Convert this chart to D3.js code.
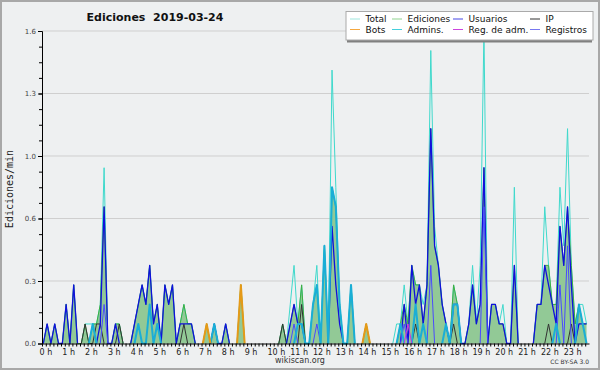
<!DOCTYPE html>
<html>
<head>
<meta charset="utf-8">
<script src="https://cdn.jsdelivr.net/npm/d3@7"></script>
<style>
  body { margin: 0; background: #eef0f1; }
  svg { display: block; font-family: "DejaVu Sans", sans-serif; }
  text { white-space: pre; }
</style>
</head>
<body>
<div id="chart"></div>
<script>
// ediciones por tramo de 10 min (0h00 .. 23h50), 144 valores, 4 h por fila
const total = [
  0,1,0,1,0,0,2,0,3,0,0,1,1,1,1,2,9,0,0,1,1,0,0,0,
  1,2,3,2,4,1,2,0,3,2,3,0,1,2,1,1,0,0,0,1,0,1,0,0,
  1,0,0,0,3,0,0,0,0,0,0,0,0,0,0,1,0,2,4,1,3,0,0,2,
  4,0,5,0,14,8,2,0,0,3,0,0,0,1,0,0,0,0,0,0,0,1,1,3,
  1,4,3,3,2,3,15,6,4,2,1,0,3,2,0,0,1,4,1,4,16,0,2,2,
  1,2,0,0,8,0,0,0,0,0,2,2,7,4,2,2,8,5,11,4,1,2,2,1
];
const ediciones = [
  0,1,0,1,0,0,2,0,3,0,0,1,0,1,1,2,7,0,0,1,1,0,0,0,
  1,2,3,2,4,1,2,0,3,2,3,0,1,2,1,1,0,0,0,1,0,1,0,0,
  1,0,0,0,3,0,0,0,0,0,0,0,0,0,0,1,0,1,2,1,3,0,0,2,
  3,0,5,0,8,7,2,0,0,3,0,0,0,1,0,0,0,0,0,0,0,0,1,2,
  1,4,3,3,1,3,11,5,4,2,1,0,3,2,0,0,1,3,1,2,9,0,2,2,
  1,1,0,0,4,0,0,0,0,0,2,2,4,4,2,2,6,4,7,4,1,2,1,1
];
const usuarios = [
  0,1,0,1,0,0,2,0,3,0,0,0,0,0,0,1,7,0,0,1,0,0,0,0,
  1,2,3,2,4,1,2,0,3,2,3,0,1,1,1,1,0,0,0,0,0,1,0,0,
  1,0,0,0,0,0,0,0,0,0,0,0,0,0,0,0,0,1,2,1,1,0,0,0,
  0,0,0,0,6,3,1,0,0,0,0,0,0,0,0,0,0,0,0,0,0,0,0,2,
  0,4,2,3,1,3,11,5,4,2,1,0,2,2,0,0,1,3,1,2,9,0,2,2,
  1,1,0,0,4,0,0,0,0,0,2,2,4,3,2,1,6,4,7,3,0,1,1,1
];
const ip = [
  0,0,0,0,0,0,0,0,0,0,0,1,0,0,1,1,0,0,0,0,1,0,0,0,
  0,0,0,0,0,0,0,0,0,0,0,0,0,1,0,0,0,0,0,0,0,0,0,0,
  0,0,0,0,0,0,0,0,0,0,0,0,0,0,0,1,0,0,0,0,2,0,0,0,
  0,0,0,0,0,0,0,0,0,0,0,0,0,0,0,0,0,0,0,0,0,0,0,0,
  0,0,1,0,0,0,0,0,0,0,0,0,1,0,0,0,0,0,0,0,0,0,0,0,
  0,0,0,0,0,0,0,0,0,0,0,0,0,1,0,0,0,0,0,1,0,0,0,0
];
const bots = [
  0,0,0,0,0,0,0,0,0,0,0,0,0,0,0,0,0,0,0,0,0,0,0,0,
  0,0,0,0,0,0,0,0,0,0,0,0,0,0,0,0,0,0,0,1,0,0,0,0,
  0,0,0,0,3,0,0,0,0,0,0,0,0,0,0,0,0,0,0,0,0,0,0,0,
  0,0,0,0,0,0,0,0,0,0,0,0,0,1,0,0,0,0,0,0,0,0,0,0,
  0,0,0,0,0,0,0,0,0,0,0,0,0,0,0,0,0,0,0,0,0,0,0,0,
  0,0,0,0,0,0,0,0,0,0,0,0,0,0,0,0,0,0,0,0,0,0,0,0
];
const admins = [
  0,0,0,0,0,0,0,0,0,0,0,0,0,1,0,0,0,0,0,0,0,0,0,0,
  0,1,0,0,2,0,1,0,0,0,0,0,0,0,0,0,0,0,0,0,0,1,0,0,
  0,0,0,0,0,0,0,0,0,0,0,0,0,0,0,0,0,0,0,1,1,0,0,2,
  3,0,5,0,8,7,2,0,0,3,0,0,0,0,0,0,0,0,0,0,0,0,1,0,
  0,0,2,0,1,0,0,0,0,0,1,0,2,2,0,0,0,0,0,0,0,0,0,0,
  0,0,0,0,0,0,0,0,0,0,0,0,0,0,0,1,0,0,0,0,0,2,1,0
];
const regAdm = [
  0,0,0,0,0,0,0,0,0,0,0,0,0,0,0,0,0,0,0,0,0,0,0,0,
  0,0,0,0,0,0,0,0,0,0,0,0,0,0,0,0,0,0,0,0,0,0,0,0,
  0,0,0,0,0,0,0,0,0,0,0,0,0,0,0,0,0,0,0,0,0,0,0,0,
  0,0,0,0,0,0,0,0,0,0,0,0,0,0,0,0,0,0,0,0,0,0,0,0,
  1,0,0,0,0,0,0,0,0,0,0,0,0,0,0,0,0,0,0,0,0,0,0,0,
  0,0,0,0,0,0,0,0,0,0,0,0,0,0,0,0,0,0,0,0,0,0,0,0
];
const registros = [
  0,0,0,0,0,0,0,0,0,0,0,0,0,0,0,0,2,0,0,0,0,0,0,0,
  0,0,0,0,0,0,0,0,0,0,0,0,0,0,0,0,0,0,0,0,0,0,0,0,
  0,0,0,0,0,0,0,0,0,0,0,0,0,0,0,0,0,0,1,0,0,0,0,0,
  1,0,0,0,0,0,0,0,0,0,0,0,0,0,0,0,0,0,0,0,0,0,0,1,
  0,0,0,0,0,0,4,0,0,0,0,0,0,0,0,0,0,0,0,0,7,0,0,0,
  0,0,0,0,0,0,0,0,0,0,0,0,0,0,0,0,3,0,5,0,0,0,0,0
];

const yTicks = [0, 0.32, 0.64, 0.96, 1.28, 1.6];
const hours = d3.range(24);

const legendItems = [
  { name: 'Total',         color: '#9fe6de' },
  { name: 'Ediciones',     color: '#8fd38f' },
  { name: 'Usuarios',      color: '#4646e6' },
  { name: 'IP',            color: '#333333' },
  { name: 'Bots',          color: '#f5a840' },
  { name: 'Admins.',       color: '#45cfdc' },
  { name: 'Reg. de adm.',  color: '#cc44dd' },
  { name: 'Registros',     color: '#7878f0' }
];

const W = 600, H = 370;
const margin = { left: 42, right: 11, top: 31, bottom: 26.5 };

const svg = d3.select('#chart').append('svg')
    .attr('width', W)
    .attr('height', H);

svg.append('rect')
    .attr('x', 1).attr('y', 1)
    .attr('width', W - 2).attr('height', H - 2)
    .attr('fill', '#eef0f1')
    .attr('stroke', '#a8a8a8')
    .attr('stroke-width', 2);

const xScale = d3.scaleLinear([0, 24], [margin.left, W - margin.right]);
const yScale = d3.scaleLinear([0, 1.6], [H - margin.bottom, margin.top]);

// gridlines
svg.append('g')
    .selectAll('line')
    .data(yTicks.slice(1))
    .join('line')
        .attr('x1', xScale(0)).attr('x2', xScale(24))
        .attr('y1', d => yScale(d)).attr('y2', d => yScale(d))
        .attr('stroke', '#cfcfcf')
        .attr('stroke-width', 1);

// tramo i -> hora
const px = i => xScale((i + 0.35) / 6);
const perMin = v => v / 10;

// solo los tramos junto a un valor no nulo, para no pintar la base
function visible (arr) {
    return (d, i) => arr[i] > 0 || arr[i - 1] > 0 || arr[i + 1] > 0;
}

function drawLine (arr, color, width) {
    const line = d3.line()
        .defined(visible(arr))
        .x((d, i) => px(i))
        .y(d => yScale(perMin(d)));
    svg.append('path')
        .datum(arr)
        .attr('d', line)
        .attr('fill', 'none')
        .attr('stroke', color)
        .attr('stroke-width', width)
        .attr('stroke-linejoin', 'round');
}

const area = d3.area()
    .x((d, i) => px(i))
    .y0(yScale(0))
    .y1(d => yScale(perMin(d)));

svg.append('path')
    .datum(ediciones)
    .attr('d', area)
    .attr('fill', '#92c996');

drawLine(total, '#3fd9cc', 1);
drawLine(ediciones, '#3fae3f', 1);
drawLine(ip, '#333333', 1);
drawLine(usuarios, '#1010dc', 1.3);
drawLine(registros, '#4a4aff', 1);
drawLine(admins, '#1aaed6', 2);
drawLine(bots, '#e59a18', 2);
drawLine(regAdm, '#cc33dd', 1);

// eje Y
const yAxis = svg.append('g')
    .attr('transform', `translate(${margin.left}, 0)`)
    .call(d3.axisLeft(yScale).tickValues(yTicks).tickFormat(d3.format('.1f')).tickSize(4).tickPadding(2))
    .style('font-family', '"DejaVu Sans", sans-serif')
    .style('font-size', '7px');
yAxis.select('.domain').attr('stroke', '#000');
yAxis.selectAll('text').attr('fill', '#444');

svg.append('g')
    .attr('transform', `translate(${margin.left}, 0)`)
    .call(d3.axisLeft(yScale).tickValues(d3.range(0.08, 1.6, 0.08)).tickFormat('').tickSize(3))
    .call(g => g.select('.domain').remove());

// eje X
const xAxis = svg.append('g')
    .attr('transform', `translate(0, ${yScale(0)})`)
    .call(d3.axisBottom(xScale).tickValues(d3.range(0, 24, 1 / 6)).tickFormat('').tickSize(3).tickSizeOuter(0));
xAxis.select('.domain').attr('stroke', '#000');

svg.append('g')
    .selectAll('text')
    .data(hours)
    .join('text')
        .attr('x', d => xScale(d) - 2.5)
        .attr('y', 355)
        .attr('font-size', 8)
        .attr('fill', '#222')
        .text(d => `${d} h`);

// textos
svg.append('text')
    .attr('x', 155).attr('y', 21)
    .attr('text-anchor', 'middle')
    .attr('font-size', 11)
    .attr('font-weight', 'bold')
    .attr('fill', '#111')
    .text('Ediciones  2019-03-24');

svg.append('text')
    .attr('transform', 'translate(13, 189) rotate(-90)')
    .attr('text-anchor', 'middle')
    .attr('font-family', '"DejaVu Sans Mono", monospace')
    .attr('font-size', 10)
    .attr('fill', '#222')
    .text('Ediciones/min');

svg.append('text')
    .attr('x', 300).attr('y', 363)
    .attr('text-anchor', 'middle')
    .attr('font-size', 8)
    .attr('fill', '#333')
    .text('wikiscan.org');

svg.append('text')
    .attr('x', 589).attr('y', 364)
    .attr('text-anchor', 'end')
    .attr('font-size', 6)
    .attr('fill', '#333')
    .text('CC BY-SA 3.0');

// leyenda
const legend = svg.append('g');
legend.append('rect')
    .attr('x', 347).attr('y', 39.5)
    .attr('width', 245).attr('height', 3)
    .attr('fill', '#808080');
legend.append('rect')
    .attr('x', 346).attr('y', 11.5)
    .attr('width', 247).attr('height', 28.5)
    .attr('fill', '#fff')
    .attr('stroke', '#aaa');

const colX = [350, 392, 453, 530];
legendItems.forEach((item, i) => {
    const col = i % 4, row = Math.floor(i / 4);
    const yl = row === 0 ? 19 : 29.5;
    legend.append('line')
        .attr('x1', colX[col]).attr('x2', colX[col] + 10)
        .attr('y1', yl).attr('y2', yl)
        .attr('stroke', item.color)
        .attr('stroke-width', 1);
    legend.append('text')
        .attr('x', colX[col] + 15.5)
        .attr('y', yl + 3)
        .attr('font-size', 9)
        .attr('fill', '#111')
        .text(item.name);
});
</script>
</body>
</html>
